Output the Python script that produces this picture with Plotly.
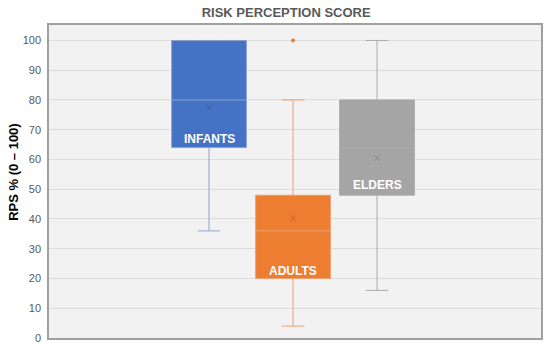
import plotly.graph_objects as go

groups = ["INFANTS", "ADULTS", "ELDERS"]
positions = [1, 2, 3]
q1 = [64, 20, 48]
median = [80, 36, 64]
q3 = [100, 48, 80]
lowerfence = [36, 4, 16]
upperfence = [100, 80, 100]
means = [77.5, 40.3, 60.5]
outlier_x = [2]
outlier_y = [100]
label_y = [67, 22.5, 51.5]

fills = ["#4472C4", "#ED7D31", "#A5A5A5"]
lines = ["#8DA3C9", "#EFA070", "#ABABAB"]
mean_cols = ["#3B5FA0", "#C8662A", "#8A8A8A"]

fig = go.Figure()
for i, g in enumerate(groups):
    fig.add_trace(go.Box(
        x=[positions[i]], q1=[q1[i]], median=[median[i]], q3=[q3[i]],
        lowerfence=[lowerfence[i]], upperfence=[upperfence[i]],
        fillcolor=fills[i], line=dict(color=lines[i], width=1),
        width=0.89, whiskerwidth=0.3, boxpoints=False, name=g,
        showlegend=False, hoverinfo="skip",
    ))
    fig.add_trace(go.Scatter(
        x=[positions[i]], y=[means[i]], mode="markers",
        marker=dict(symbol="x-thin", size=6, line=dict(color=mean_cols[i], width=1)),
        showlegend=False, hoverinfo="skip",
    ))
    fig.add_annotation(
        x=positions[i], y=label_y[i], text="<b>%s</b>" % g, showarrow=False,
        font=dict(family="Liberation Sans, Arial", size=12, color="white"),
        xanchor="center", yanchor="middle",
    )

fig.add_trace(go.Scatter(
    x=outlier_x, y=outlier_y, mode="markers",
    marker=dict(symbol="circle", size=4, color="#ED7D31"),
    showlegend=False, hoverinfo="skip",
))

fig.add_annotation(
    xref="paper", yref="paper", x=-0.071, y=0.531, text="<b>RPS % (0 – 100)</b>",
    textangle=-90, showarrow=False, xanchor="center", yanchor="middle",
    font=dict(family="Liberation Sans, Arial", size=13, color="#000000"),
)

fig.update_layout(
    template="none",
    width=550, height=346,
    margin=dict(l=49, r=9, t=25, b=8, autoexpand=False),
    paper_bgcolor="white", plot_bgcolor="#F2F2F2",
    title=dict(text="<b>RISK PERCEPTION SCORE</b>", xref="paper", x=0.482, xanchor="center",
               yref="container", y=0.965, yanchor="middle",
               font=dict(family="Liberation Sans, Arial", size=13, color="#595959")),
    font=dict(family="Liberation Sans, Arial", color="#595959"),
)
fig.update_xaxes(range=[-0.905, 4.952], showticklabels=False, showgrid=False,
                 zeroline=False, showline=True, linecolor="#A0A0A0", linewidth=1.5, mirror=True,
                 ticks="")
fig.update_yaxes(range=[0, 105.2], tickvals=list(range(0, 101, 10)),
                 tickfont=dict(size=11, color="#595959"), showgrid=True, gridcolor="#DCDCDC",
                 gridwidth=1, zeroline=False, showline=True, linecolor="#A0A0A0", linewidth=1.5,
                 mirror=True, ticks="", ticklabelstandoff=4, automargin=False)

fig.write_html("out.html", config={"displayModeBar": False},
               post_script="document.body.style.margin='0';document.body.style.overflow='hidden';")
